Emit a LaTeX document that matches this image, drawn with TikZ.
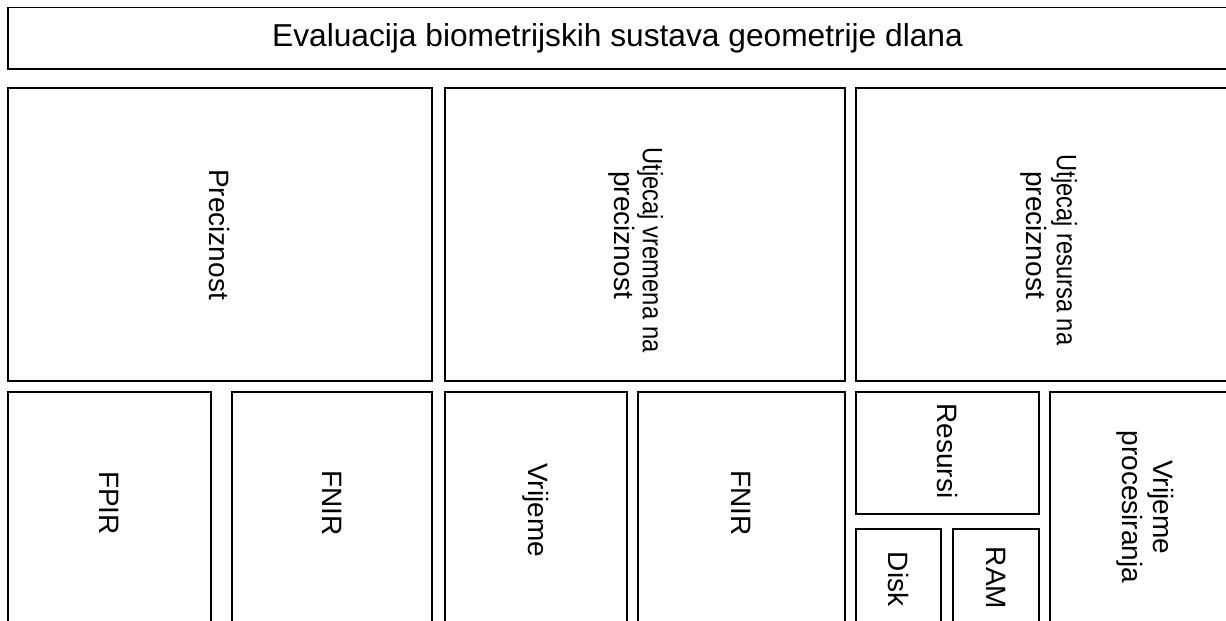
\documentclass[tikz,border=0pt]{standalone}
\usepackage{fontspec}
\setmainfont{Liberation Sans}
\begin{document}
\begin{tikzpicture}[x=1pt,y=-1pt,
  cellbox/.style={draw=black,line width=1.6pt},
  celltext/.style={font=\fontsize{28}{31}\selectfont,align=center,inner sep=0pt},
  vtext/.style={celltext,rotate=-90}]
\useasboundingbox (0,0) rectangle (1226,621);
\clip (0,0) rectangle (1226,621);
% title
\draw[cellbox] (8,7.5) rectangle (1240,69);
\node[celltext,font=\fontsize{31.7}{34}\selectfont] (title) at (617.5,38) {Evaluacija biometrijskih sustava geometrije dlana};
% row 2
\draw[cellbox] (8,88) rectangle (432,381);
\node[vtext] (prec) at (220,234.5) {Preciznost};
\draw[cellbox] (445,88) rectangle (845,381);
\node[vtext] (utvra) at (650,250) {\scalebox{0.85}[1]{Utjecaj vremena na}};
\node[vtext] (utvrb) at (622,235) {preciznost};
\draw[cellbox] (856,88) rectangle (1244,381);
\node[vtext] (utresa) at (1064,250) {\scalebox{0.845}[1]{Utjecaj resursa na}};
\node[vtext] (utresb) at (1034,235) {preciznost};
% row 3
\draw[cellbox] (8,392) rectangle (211,630);
\node[vtext] (fpir) at (109.5,503) {FPIR};
\draw[cellbox] (232,392) rectangle (432,630);
\node[vtext] (fnir) at (332,503) {FNIR};
\draw[cellbox] (445,392) rectangle (627,630);
\node[vtext] (vrij) at (536,510) {Vrijeme};
\draw[cellbox] (638,392) rectangle (845,630);
\node[vtext] (fnir2) at (741.5,503) {FNIR};
\draw[cellbox] (856,392) rectangle (1039,514);
\node[vtext] (res) at (947.5,451) {Resursi};
\draw[cellbox] (856,529) rectangle (941,640);
\node[vtext] (disk) at (898.5,579) {Disk};
\draw[cellbox] (953,529) rectangle (1039,640);
\node[vtext] (ram) at (996,578) {RAM};
\draw[cellbox] (1050,392) rectangle (1240,630);
\node[vtext] (vproc) at (1145,507) {Vrijeme\\procesiranja};
\end{tikzpicture}
\end{document}
